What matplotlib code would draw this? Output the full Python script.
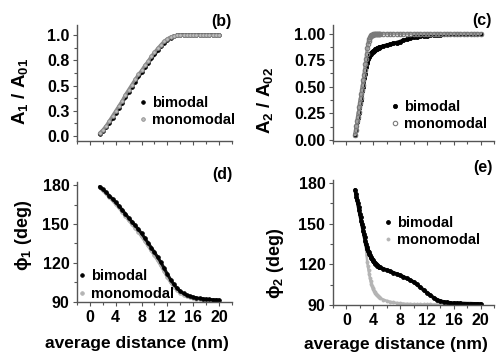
import numpy as np
import matplotlib
matplotlib.use('Agg')
import matplotlib.pyplot as plt
from matplotlib.ticker import MultipleLocator, FixedLocator, FixedFormatter

plt.rcParams['font.family'] = ['Liberation Sans', 'DejaVu Sans']
plt.rcParams['font.weight'] = 'bold'
plt.rcParams['mathtext.fontset'] = 'custom'
plt.rcParams['mathtext.rm'] = 'Liberation Sans:bold'
plt.rcParams['mathtext.it'] = 'Liberation Sans:bold'
plt.rcParams['mathtext.bf'] = 'Liberation Sans:bold'

# distance grids (nm)
x_bd = np.arange(1.5, 20.01, 0.5)
x_ce = np.concatenate([np.arange(1.3, 5.01, 0.1), np.arange(5.5, 20.01, 0.5)])

# (b) A1/A01
a1_bi = [0.02, 0.05, 0.09, 0.13, 0.18, 0.23, 0.28, 0.33, 0.39, 0.44,
         0.49, 0.54, 0.59, 0.63, 0.68, 0.72, 0.77, 0.81, 0.85, 0.89,
         0.925, 0.955, 0.975, 0.99, 0.997, 1.0, 1.0, 1.0, 1.0, 1.0,
         1.0, 1.0, 1.0, 1.0, 1.0, 1.0, 1.0, 1.0]
a1_mono = [0.03, 0.06, 0.10, 0.15, 0.20, 0.25, 0.30, 0.35, 0.41, 0.46,
           0.51, 0.56, 0.61, 0.65, 0.70, 0.74, 0.79, 0.83, 0.87, 0.905,
           0.94, 0.965, 0.982, 0.993, 0.998, 1.0, 1.0, 1.0, 1.0, 1.0,
           1.0, 1.0, 1.0, 1.0, 1.0, 1.0, 1.0, 1.0]

# (c) A2/A02
a2_bi = [0.05, 0.09, 0.13, 0.17, 0.21, 0.25, 0.30, 0.34, 0.38, 0.42,
         0.46, 0.50, 0.54, 0.58, 0.62, 0.66, 0.69, 0.72, 0.74, 0.76,
         0.775, 0.79, 0.80, 0.81, 0.82, 0.825, 0.83, 0.835, 0.84, 0.845,
         0.85, 0.855, 0.858, 0.861, 0.864, 0.867, 0.87, 0.873,
         0.882, 0.891, 0.899, 0.907, 0.915, 0.925, 0.935, 0.945, 0.955, 0.963,
         0.969, 0.974, 0.978, 0.981, 0.984, 0.986, 0.988, 0.99, 0.991, 0.992,
         0.993, 0.994, 0.994, 0.995, 0.995, 0.995, 0.996, 0.996, 0.996, 0.996]
a2_mono = [0.05, 0.09, 0.13, 0.18, 0.22, 0.26, 0.31, 0.35, 0.39, 0.43,
           0.47, 0.52, 0.56, 0.61, 0.66, 0.71, 0.76, 0.81, 0.86, 0.90,
           0.93, 0.95, 0.965, 0.975, 0.982, 0.987, 0.99, 0.992, 0.994, 0.995,
           0.996, 0.997, 0.998, 0.998, 0.999, 0.999, 0.999, 1.0,
           1.0, 1.0, 1.0, 1.0, 1.0, 1.0, 1.0, 1.0, 1.0, 1.0,
           1.0, 1.0, 1.0, 1.0, 1.0, 1.0, 1.0, 1.0, 1.0, 1.0,
           1.0, 1.0, 1.0, 1.0, 1.0, 1.0, 1.0, 1.0, 1.0, 1.0]

# (d) phi1 (deg)
p1_bi = [178.8, 176.6, 174.3, 171.8, 169.3, 166.6, 163.9, 160.9, 157.8, 154.7,
         151.8, 148.9, 146.0, 142.7, 139.2, 135.5, 131.9, 128.2, 124.5, 120.4,
         116.0, 111.4, 107.2, 103.5, 100.6, 98.3, 96.6, 95.3, 94.4, 93.7,
         93.2, 92.8, 92.5, 92.2, 92.0, 91.8, 91.7, 91.6]
p1_mono = [178.2, 175.9, 173.5, 170.9, 168.3, 165.5, 162.7, 159.6, 156.4, 153.2,
           150.2, 147.2, 144.2, 140.8, 137.2, 133.5, 129.8, 126.1, 122.3, 118.2,
           113.9, 109.4, 105.4, 101.9, 99.2, 97.1, 95.6, 94.4, 93.6, 93.0,
           92.5, 92.1, 91.8, 91.6, 91.4, 91.3, 91.2, 91.1]

# (e) phi2 (deg)
p2_bi = [175.0, 172.2, 169.8, 167.4, 165.0, 162.4, 159.9, 157.3, 154.8, 152.3,
         149.8, 147.3, 144.8, 142.3, 139.8, 137.4, 135.0, 133.1, 131.4, 130.0,
         128.8, 127.7, 126.7, 125.7, 124.8, 123.9, 123.0, 122.2, 121.5, 120.9,
         120.4, 119.9, 119.5, 119.1, 118.7, 118.3, 118.0, 117.7,
         116.7, 115.8, 114.9, 113.8, 112.9, 111.9, 110.8, 109.6, 108.4, 107.0,
         105.2, 103.1, 101.1, 99.1, 97.2, 95.4, 93.9, 92.9, 92.3, 91.9,
         91.6, 91.4, 91.3, 91.2, 91.1, 91.0, 91.0, 90.9, 90.9, 90.9]
p2_mono = [174.8, 172.0, 169.6, 167.2, 164.8, 162.2, 159.7, 157.1, 154.6, 152.0,
           149.5, 147.0, 144.4, 141.8, 138.9, 135.8, 132.5, 127.0, 122.0, 118.5,
           115.5, 112.7, 110.0, 107.5, 105.6, 104.0, 102.7, 101.6, 100.6, 99.8,
           99.0, 98.3, 97.7, 97.1, 96.6, 96.1, 95.7, 95.3,
           94.0, 93.1, 92.4, 91.9, 91.5, 91.2, 91.0, 90.8, 90.7, 90.6,
           90.5, 90.5, 90.4, 90.4, 90.4, 90.3, 90.3, 90.3, 90.3, 90.3,
           90.3, 90.3, 90.3, 90.3, 90.3, 90.3, 90.3, 90.3, 90.3, 90.3]

fig = plt.figure(figsize=(4.98, 3.59), dpi=100)
ax_b = fig.add_axes([0.1546, 0.6072, 0.3112, 0.3231])
ax_c = fig.add_axes([0.6687, 0.6072, 0.3233, 0.3231])
ax_d = fig.add_axes([0.1546, 0.1588, 0.3112, 0.3331])
ax_e = fig.add_axes([0.6687, 0.1504, 0.3233, 0.3474])

axc = '#555555'
for ax in (ax_b, ax_c, ax_d, ax_e):
    for s in ('top', 'right'):
        ax.spines[s].set_visible(False)
    for s in ('left', 'bottom'):
        ax.spines[s].set_color(axc)
        ax.spines[s].set_linewidth(1.0)
    ax.set_xlim(-2, 22)
    ax.xaxis.set_major_locator(MultipleLocator(4))
    ax.xaxis.set_minor_locator(MultipleLocator(2))
    ax.tick_params(which='both', direction='out', color=axc, width=0.8,
                   labelsize=11.5, pad=2.5)
    ax.tick_params(which='major', length=3)
    ax.tick_params(which='minor', length=2)
    ax.patch.set_alpha(0)

for ax in (ax_b, ax_c):
    ax.tick_params(axis='x', labelbottom=False)


def series(ax, x, y, color, mfc, mec, label, ms=2.6, lw=2.6, mew=0.6):
    # dense measured points drawn as a thick trace with point markers on top
    ax.plot(x, y, '-', lw=lw, color=color, solid_capstyle='round')
    ax.plot(x, y, 'o', ms=ms, mfc=mfc, mec=mec, mew=mew, ls='none', label=label)


# (b)
series(ax_b, x_bd, a1_bi, '#111111', 'black', 'black', 'bimodal')
series(ax_b, x_bd, a1_mono, '#8c8c8c', '#bdbdbd', '#8c8c8c', 'monomodal', lw=2.2)
ax_b.set_ylim(-0.05, 1.1)
ax_b.yaxis.set_major_locator(FixedLocator([0, 0.25, 0.5, 0.75, 1.0]))
ax_b.yaxis.set_major_formatter(FixedFormatter(['0.0', '0.3', '0.5', '0.8', '1.0']))
ax_b.yaxis.set_minor_locator(MultipleLocator(0.125))

# (c)
series(ax_c, x_ce, a2_bi, '#111111', 'black', 'black', 'bimodal', ms=3.0)
series(ax_c, x_ce, a2_mono, '#a0a0a0', 'none', '#7a7a7a', 'monomodal', ms=3.2,
       lw=2.4, mew=0.8)
ax_c.set_ylim(-0.01, 1.08)
ax_c.yaxis.set_major_locator(FixedLocator([0, 0.25, 0.5, 0.75, 1.0]))
ax_c.yaxis.set_major_formatter(FixedFormatter(['0.00', '0.25', '0.50', '0.75', '1.00']))
ax_c.yaxis.set_minor_locator(MultipleLocator(0.125))

# (d)
series(ax_d, x_bd, p1_mono, '#a8a8a8', '#b4b4b4', '#b4b4b4', 'monomodal', lw=2.6)
series(ax_d, x_bd, p1_bi, '#111111', 'black', 'black', 'bimodal', lw=2.2)
ax_d.set_ylim(90, 182)

# (e)
series(ax_e, x_ce, p2_mono, '#b4b4b4', '#b4b4b4', '#b4b4b4', 'monomodal', ms=2.2, lw=1.8)
series(ax_e, x_ce, p2_bi, '#111111', 'black', 'black', 'bimodal', ms=2.8, lw=2.6)
ax_e.set_ylim(90, 182)

for ax in (ax_d, ax_e):
    ax.yaxis.set_major_locator(FixedLocator([90, 120, 150, 180]))
    ax.yaxis.set_minor_locator(MultipleLocator(15))


def add_legend(ax, x, y, order):
    h, l = ax.get_legend_handles_labels()
    idx = [l.index(o) for o in order]
    return ax.legend([h[i] for i in idx], [l[i] for i in idx], loc='center left',
                     bbox_to_anchor=(x, y), frameon=False, fontsize=10.5,
                     handlelength=0.6, handletextpad=0.3, borderpad=0,
                     borderaxespad=0, labelspacing=0.25)


add_legend(ax_b, 0.40, 0.254, ['bimodal', 'monomodal'])
add_legend(ax_c, 0.36, 0.22, ['bimodal', 'monomodal'])
add_legend(ax_d, 0.006, 0.142, ['bimodal', 'monomodal'])
add_legend(ax_e, 0.317, 0.589, ['bimodal', 'monomodal'])

# panel letters
ax_b.text(1.0, 1.03, '(b)', transform=ax_b.transAxes, ha='right', va='center', fontsize=11.5)
ax_c.text(0.988, 1.035, '(c)', transform=ax_c.transAxes, ha='right', va='center', fontsize=11.5)
ax_d.text(1.006, 1.062, '(d)', transform=ax_d.transAxes, ha='right', va='center', fontsize=11.5)
ax_e.text(0.994, 1.099, '(e)', transform=ax_e.transAxes, ha='right', va='center', fontsize=11.5)

# y labels
ax_b.text(-0.368, 0.431, 'A$_{1}$ / A$_{01}$', transform=ax_b.transAxes,
          rotation=90, ha='center', va='center', fontsize=13.5)
ax_c.text(-0.42, 0.346, 'A$_{2}$ / A$_{02}$', transform=ax_c.transAxes,
          rotation=90, ha='center', va='center', fontsize=13.5)
ax_d.text(-0.348, 0.56, 'ϕ$_{1}$ (deg)', transform=ax_d.transAxes,
          rotation=90, ha='center', va='center', fontsize=13)
ax_e.text(-0.36, 0.337, 'ϕ$_{2}$ (deg)', transform=ax_e.transAxes,
          rotation=90, ha='center', va='center', fontsize=13)

# x labels
ax_d.text(0.387, -0.351, 'average distance (nm)', transform=ax_d.transAxes,
          ha='center', va='center', fontsize=12.5)
ax_e.text(0.391, -0.313, 'average distance (nm)', transform=ax_e.transAxes,
          ha='center', va='center', fontsize=12.5)

fig.savefig('out.png', dpi=100)
